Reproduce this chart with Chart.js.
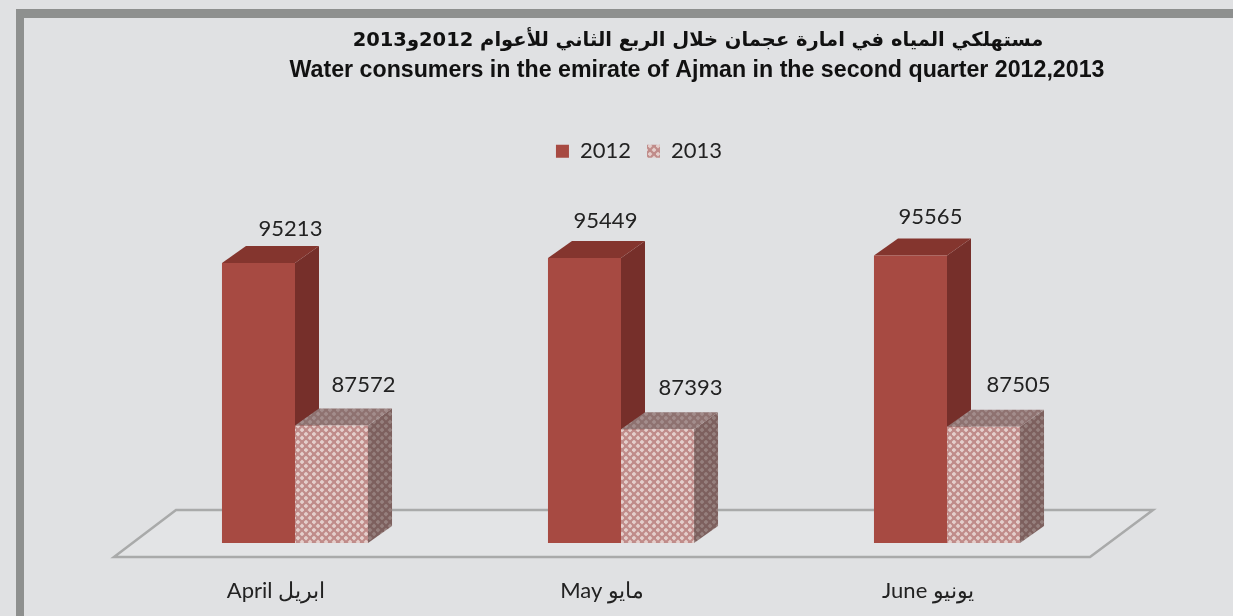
<!DOCTYPE html>
<html>
<head>
<meta charset="utf-8">
<style>
  html, body { margin: 0; padding: 0; background: #e0e1e3; overflow: hidden; }
  #frame { position: absolute; left: 16px; top: 9px; width: 1217px; height: 607px; box-sizing: border-box;
           border-left: 8px solid #8e908f; border-top: 9px solid #8e908f; }
  #MiGrafica { position: absolute; left: 0; top: 0; filter: blur(0.5px); }
</style>
</head>
<body>
<div id="frame"></div>
<canvas id="MiGrafica" width="1233" height="616"></canvas>
<script src="https://cdn.jsdelivr.net/npm/chart.js@4"></script>
<script>
const categorias = ['April ابريل', 'May مايو', 'June يونيو'];
const valores2012 = [95213, 95449, 95565];
const valores2013 = [87572, 87393, 87505];
const yMin = 82040;
const yMax = 99480;
const tituloAr = 'مستهلكي المياه في امارة عجمان خلال الربع الثاني للأعوام 2012و2013';
const tituloEn = 'Water consumers in the emirate of Ajman in the second quarter 2012,2013';

// tile for the hatched 2013 bars
function trama(fondo, punto) {
    const c = document.createElement('canvas');
    c.width = 8;
    c.height = 8;
    const g = c.getContext('2d');
    g.fillStyle = fondo;
    g.fillRect(0, 0, 8, 8);
    g.fillStyle = punto;
    [[2, 2], [6, 6]].forEach(function (p) {
        g.beginPath();
        g.moveTo(p[0] - 2.4, p[1]);
        g.lineTo(p[0], p[1] - 2.4);
        g.lineTo(p[0] + 2.4, p[1]);
        g.lineTo(p[0], p[1] + 2.4);
        g.fill();
    });
    return g.createPattern(c, 'repeat');
}

const ctx = document.getElementById('MiGrafica').getContext('2d');
const tramaFrente = trama('#c08c8a', '#e4cfcc');
const tramaLado = trama('#7d605e', '#96807e');
const tramaArriba = trama('#8e7270', '#a38d8c');

const FONDO_X = 24, FONDO_Y = 17;

// the value labels were placed by hand in the original, so each one has its own offset
const etiquetaX = [[32, 21, 20], [32, 33, 35]];
const etiquetaY = [[34, 37, 39], [40, 41, 42]];

function cara(puntos, color) {
    ctx.fillStyle = color;
    ctx.beginPath();
    puntos.forEach(function (p, i) {
        if (i === 0) ctx.moveTo(p[0], p[1]); else ctx.lineTo(p[0], p[1]);
    });
    ctx.closePath();
    ctx.fill();
}

const plugin3d = {
    id: 'plugin3d',
    afterLayout(chart) {
        // title lines and legend are not centred on the canvas in the original
        chart.boxes.forEach(function (b) {
            let d = 0;
            if (b === chart.legend) d = 18;
            else if (b.options && b.options.text === tituloAr) d = 77;
            else if (b.options && b.options.text === tituloEn) d = 76;
            b.left += d;
            b.right += d;
        });
    },
    beforeDatasetsDraw(chart) {
        const a = chart.chartArea;
        // floor
        ctx.save();
        ctx.beginPath();
        ctx.moveTo(a.left - 18, a.bottom + 14);
        ctx.lineTo(a.right - 20, a.bottom + 14);
        ctx.lineTo(a.right + 43, a.bottom - 33);
        ctx.lineTo(a.left + 44, a.bottom - 33);
        ctx.closePath();
        ctx.fillStyle = '#e3e4e6';
        ctx.fill();
        ctx.strokeStyle = '#a9aaaa';
        ctx.lineWidth = 2.5;
        ctx.stroke();
        // side and top faces
        const estilos = [['#762f2a', '#84352e'], [tramaLado, tramaArriba]];
        chart.data.datasets.forEach(function (ds, i) {
            chart.getDatasetMeta(i).data.forEach(function (b) {
                const l = b.x - b.width / 2, r = b.x + b.width / 2;
                cara([[r, b.y], [r + FONDO_X, b.y - FONDO_Y], [r + FONDO_X, a.bottom - FONDO_Y], [r, a.bottom]], estilos[i][0]);
                cara([[l, b.y], [l + FONDO_X, b.y - FONDO_Y], [r + FONDO_X, b.y - FONDO_Y], [r, b.y]], estilos[i][1]);
            });
        });
        ctx.restore();
    },
    afterDatasetsDraw(chart) {
        ctx.save();
        ctx.font = '22px Lato';
        ctx.fillStyle = '#222222';
        ctx.textAlign = 'center';
        ctx.textBaseline = 'middle';
        chart.data.datasets.forEach(function (ds, i) {
            chart.getDatasetMeta(i).data.forEach(function (b, j) {
                ctx.fillText(String(ds.data[j]), b.x + etiquetaX[i][j], b.y - etiquetaY[i][j]);
            });
        });
        ctx.restore();
    }
};

new Chart(ctx, {
    type: 'bar',
    data: {
        labels: categorias,
        datasets: [
            { label: '2012', data: valores2012, backgroundColor: '#a74a42' },
            { label: '2013', data: valores2013, backgroundColor: tramaFrente }
        ]
    },
    plugins: [plugin3d],
    options: {
        responsive: false,
        animation: false,
        categoryPercentage: 0.448,
        barPercentage: 1,
        layout: { padding: { left: 132, right: 123, top: 29, bottom: -15.4 } },
        scales: {
            x: {
                grid: { display: false },
                border: { display: false },
                ticks: { color: '#222222', font: { family: 'Lato', size: 22 }, padding: 27, labelOffset: -19, maxRotation: 0 }
            },
            y: { display: false, min: yMin, max: yMax }
        },
        plugins: {
            title: {
                display: true,
                text: tituloAr,
                color: '#111111',
                font: { family: '"DejaVu Sans"', size: 19.5, weight: 'bold' },
                padding: { top: 0, bottom: 4.5 }
            },
            subtitle: {
                display: true,
                text: tituloEn,
                color: '#111111',
                font: { family: '"Liberation Sans"', size: 23.2, weight: 'bold' },
                padding: { top: 0, bottom: 39.5 }
            },
            legend: {
                position: 'top',
                labels: { boxWidth: 13, boxHeight: 13, color: '#222222', font: { family: 'Lato', size: 22 }, padding: 16 }
            },
            tooltip: { enabled: false }
        }
    }
});
</script>
</body>
</html>
